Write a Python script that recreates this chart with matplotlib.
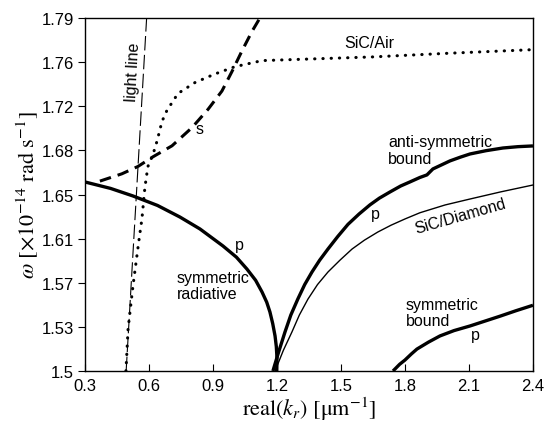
import numpy as np
from matplotlib import pyplot as plt

plt.rcParams['font.family'] = ['Liberation Sans', 'DejaVu Sans']
plt.rcParams['mathtext.fontset'] = 'stix'

# axis ticks
xticks = [0.3, 0.6, 0.9, 1.2, 1.5, 1.8, 2.1, 2.4]
ytick_labels = ["1.5", "1.53", "1.57", "1.61", "1.65", "1.68", "1.72", "1.76", "1.79"]

# light line (omega = c k)
light_k = [0.493, 0.589]
light_w = [1.5, 1.79]

# SiC/Air (dotted)
air_k = [0.492, 0.502, 0.525, 0.555, 0.567, 0.581, 0.595, 0.619, 0.638, 0.661,
         0.684, 0.736, 0.816, 0.909, 1.003, 1.130, 1.300, 1.645, 2.000, 2.400]
air_w = [1.500, 1.5345, 1.570, 1.610, 1.625, 1.651, 1.668, 1.678, 1.689, 1.705,
         1.714, 1.728, 1.737, 1.744, 1.750, 1.755, 1.756, 1.758, 1.761, 1.764]

# s mode (thick dashed)
s_k = [0.370, 0.473, 0.548, 0.619, 0.708, 0.802, 0.877, 0.942, 0.989, 1.036, 1.083, 1.120]
s_w = [1.656, 1.662, 1.668, 1.676, 1.685, 1.700, 1.715, 1.730, 1.746, 1.763, 1.779, 1.790]

# symmetric radiative p mode
rad_k = [0.300, 0.420, 0.525, 0.640, 0.745, 0.839, 0.947, 1.010, 1.059, 1.100,
         1.130, 1.152, 1.167, 1.180, 1.191, 1.197, 1.200, 1.199]
rad_w = [1.6553, 1.6500, 1.6438, 1.6360, 1.6265, 1.6167, 1.6027, 1.5935, 1.5838, 1.5745,
         1.5649, 1.5565, 1.5485, 1.5390, 1.5288, 1.5200, 1.5110, 1.5000]

# anti-symmetric bound p mode
anti_k = [1.181, 1.205, 1.2375, 1.265, 1.298, 1.330, 1.364, 1.400, 1.439, 1.485, 1.533,
          1.585, 1.636, 1.680, 1.730, 1.780, 1.823, 1.870, 1.903, 1.931,
          2.011, 2.060, 2.105, 2.180, 2.259, 2.330, 2.400]
anti_w = [1.500, 1.514, 1.532, 1.546, 1.5592, 1.571, 1.5813, 1.591, 1.6002, 1.6105, 1.6205,
          1.629, 1.6365, 1.642, 1.6471, 1.652, 1.6553, 1.659, 1.6611, 1.6660,
          1.6726, 1.6757, 1.6783, 1.6810, 1.6832, 1.6843, 1.6849]

# SiC/Diamond (thin solid)
dia_k = [1.191, 1.230, 1.270, 1.305, 1.345, 1.390, 1.439, 1.495, 1.552, 1.610, 1.673,
         1.735, 1.800, 1.870, 1.988, 2.105, 2.250, 2.400]
dia_w = [1.500, 1.517, 1.532, 1.546, 1.559, 1.571, 1.5813, 1.591, 1.6002, 1.6075, 1.6142,
         1.6198, 1.6249, 1.6300, 1.6364, 1.6413, 1.6472, 1.6528]

# symmetric bound p mode
sb_k = [1.744, 1.775, 1.800, 1.830, 1.856, 1.910, 1.964, 2.030, 2.105, 2.175, 2.245, 2.320, 2.400]
sb_w = [1.500, 1.5055, 1.509, 1.514, 1.518, 1.5237, 1.5288, 1.5332, 1.537, 1.541, 1.545,
        1.5495, 1.554]

fig = plt.figure(figsize=(5.44, 4.27), dpi=100)
ax = fig.add_axes([0.1562, 0.1288, 0.8235, 0.8267])

ax.plot(light_k, light_w, color="black", lw=0.8, linestyle=(0, (13, 4)))
ax.plot(air_k, air_w, color="black", lw=2.2, linestyle=(0, (0.1, 2.6)),
        dash_capstyle="round")
ax.plot(s_k, s_w, color="black", lw=2.2, linestyle=(0, (3.8, 2.3)))
ax.plot(rad_k, rad_w, color="black", lw=2.4, solid_capstyle="butt")
ax.plot(anti_k, anti_w, color="black", lw=2.4, solid_capstyle="butt")
ax.plot(dia_k, dia_w, color="black", lw=1.0)
ax.plot(sb_k, sb_w, color="black", lw=2.4, solid_capstyle="butt")

fs = 11.5
ax.text(0.525, 1.746, "light line", rotation=87, ha="center", va="center", fontsize=fs)
ax.text(0.839, 1.699, "s", ha="center", va="center", fontsize=fs)
ax.text(1.631, 1.770, "SiC/Air", ha="center", va="center", fontsize=fs)
ax.text(1.72, 1.6816, "anti-symmetric\nbound", ha="left", va="center", fontsize=fs,
        linespacing=1.1)
ax.text(1.659, 1.629, "p", ha="center", va="center", fontsize=fs)
ax.text(2.06, 1.628, "SiC/Diamond", rotation=16, ha="center", va="center", fontsize=fs)
ax.text(1.022, 1.604, "p", ha="center", va="center", fontsize=fs)
ax.text(0.731, 1.570, "symmetric\nradiative", ha="left", va="center", fontsize=fs,
        linespacing=1.1)
ax.text(1.805, 1.548, "symmetric\nbound", ha="left", va="center", fontsize=fs,
        linespacing=1.1)
ax.text(2.128, 1.530, "p", ha="center", va="center", fontsize=fs)

ax.set_xlim(0.3, 2.4)
ax.set_ylim(1.5, 1.79)
ax.set_xticks(xticks)
ax.set_xticklabels([f"{t:g}" for t in xticks])
ax.set_yticks(np.linspace(1.5, 1.79, len(ytick_labels)))
ax.set_yticklabels(ytick_labels)
ax.tick_params(axis="x", direction="in", length=5, labelsize=12, pad=5)
ax.tick_params(axis="y", direction="out", length=5, labelsize=12, pad=3)
for sp in ax.spines.values():
    sp.set_linewidth(1.0)

ax.set_xlabel("real($k_r$) [μm$^{-1}$]", fontsize=16, family="STIXGeneral", labelpad=1)
ax.set_ylabel("$\\omega$ [×10$^{-14}$ rad s$^{-1}$]", fontsize=16, family="STIXGeneral",
              labelpad=0)

fig.savefig("out.png", dpi=100)
